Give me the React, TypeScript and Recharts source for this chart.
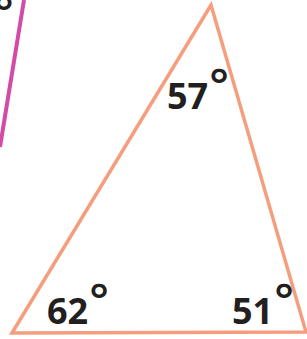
import { ComposedChart, Line, Scatter, XAxis, YAxis } from 'recharts'

// triangle corners (bottom-left, apex, bottom-right), y measured downward
const cornerX = [12, 211, 306]
const cornerY = [333, 5, 332]
const angles = ['62', '57', '51']
const labelX = [47, 167, 232]
const labelY = [324, 109, 324]

// edge of the neighbouring (magenta) figure, cut off at the left
const sideX = [24, 0]
const sideY = [0, 147]
// its angle label, only the bottom of the degree sign shows
const strayX = [0]
const strayY = [36]

// closed path, going once more to the apex so the first corner gets a proper join
const triangle = [0, 1, 2, 0, 1].map(i => ({ x: cornerX[i], y: cornerY[i] }))
const side = sideX.map((x, i) => ({ x, y: sideY[i] }))
const labels = angles.map((value, i) => ({ x: labelX[i], y: labelY[i], value }))
const stray = strayX.map((x, i) => ({ x, y: strayY[i] }))

const INK = '#231f20'
const FONT = "'Open Sans', sans-serif"

function AngleLabel(props: { cx?: number; cy?: number; payload?: { value: string } }) {
  const { cx = 0, cy = 0, payload } = props
  return (
    <text x={cx} y={cy} fill={INK} fontFamily={FONT} fontWeight={700} fontSize={36}>
      {payload?.value}
      <tspan dx={1} dy={-8} fontSize={46} fontWeight={600}>°</tspan>
    </text>
  )
}

function StrayDegree(props: { cx?: number; cy?: number }) {
  const { cx = 0, cy = 0 } = props
  return (
    <text x={cx - 6} y={cy - 8} fill={INK} fontFamily={FONT} fontWeight={600} fontSize={46}>°</text>
  )
}

export default function App() {
  return (
    <div style={{ position: 'absolute', left: 0, top: 0, width: 307, height: 339, background: '#fff' }}>
      <ComposedChart width={307} height={339} margin={{ top: 0, right: 0, bottom: 0, left: 0 }}>
        <XAxis type="number" dataKey="x" domain={[0, 307]} hide allowDataOverflow />
        <YAxis type="number" dataKey="y" domain={[0, 339]} reversed hide allowDataOverflow />
        <Line
          data={side}
          dataKey="y"
          type="linear"
          stroke="#d24ca7"
          strokeWidth={4}
          dot={false}
          activeDot={false}
          isAnimationActive={false}
        />
        <Line
          data={triangle}
          dataKey="y"
          type="linear"
          stroke="#f59e7e"
          strokeWidth={3.5}
          strokeLinejoin="miter"
          dot={false}
          activeDot={false}
          isAnimationActive={false}
        />
        <Scatter data={labels} shape={<AngleLabel />} isAnimationActive={false} />
        <Scatter data={stray} shape={<StrayDegree />} isAnimationActive={false} />
      </ComposedChart>
    </div>
  )
}
